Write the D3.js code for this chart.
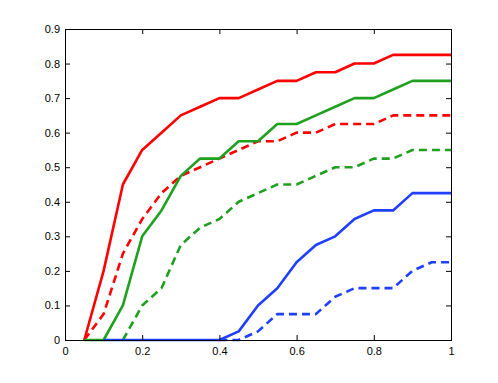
<!DOCTYPE html>
<html>
<head>
<meta charset="utf-8">
<script src="https://cdn.jsdelivr.net/npm/d3@7"></script>
<style>
  body { margin: 0; background: #fff; }
  svg { display: block; }
  .tick text { font-family: "Liberation Sans", Arial, sans-serif; font-size: 11px; fill: #000; }
</style>
</head>
<body>
<svg id="chart"></svg>
<script>
// x positions shared by every curve
var xs = [0.05, 0.1, 0.15, 0.2, 0.25, 0.3, 0.35, 0.4, 0.45, 0.5,
          0.55, 0.6, 0.65, 0.7, 0.75, 0.8, 0.85, 0.9, 0.95, 1];

// null = curve not drawn at that x
var redSolid   = [0, 0.2, 0.45, 0.55, 0.6, 0.65, 0.675, 0.7, 0.7, 0.725,
                  0.75, 0.75, 0.775, 0.775, 0.8, 0.8, 0.825, 0.825, 0.825, 0.825];
var redDashed  = [0, 0.075, 0.25, 0.35, 0.425, 0.475, 0.5, 0.525, 0.55, 0.575,
                  0.575, 0.6, 0.6, 0.625, 0.625, 0.625, 0.65, 0.65, 0.65, 0.65];
var greenSolid = [0, 0, 0.1, 0.3, 0.375, 0.475, 0.525, 0.525, 0.575, 0.575,
                  0.625, 0.625, 0.65, 0.675, 0.7, 0.7, 0.725, 0.75, 0.75, 0.75];
var greenDashed = [null, null, 0, 0.1, 0.15, 0.275, 0.325, 0.35, 0.4, 0.425,
                   0.45, 0.45, 0.475, 0.5, 0.5, 0.525, 0.525, 0.55, 0.55, 0.55];
var blueSolid  = [null, 0, 0, 0, 0, 0, 0, 0, 0.025, 0.1,
                  0.15, 0.225, 0.275, 0.3, 0.35, 0.375, 0.375, 0.425, 0.425, 0.425];
var blueDashed = [null, null, null, null, null, null, null, 0, 0, 0.025,
                  0.075, 0.075, 0.075, 0.125, 0.15, 0.15, 0.15, 0.2, 0.225, 0.225];

var xTicks = [0, 0.2, 0.4, 0.6, 0.8, 1];
var yTicks = [0, 0.1, 0.2, 0.3, 0.4, 0.5, 0.6, 0.7, 0.8, 0.9];

var series = [
  {values: redSolid,    color: "#ff0000", dash: null},
  {values: redDashed,   color: "#ff0000", dash: "8,5"},
  {values: greenSolid,  color: "#1fa01f", dash: null},
  {values: greenDashed, color: "#1fa01f", dash: "8,5"},
  {values: blueSolid,   color: "#2040ff", dash: null},
  {values: blueDashed,  color: "#2040ff", dash: "8,5"}
];

var width = 498, height = 383;
// plot box (window.top is reserved, so own names here)
var mLeft = 65, mRight = 451, mTop = 29, mBottom = 340;

var svg = d3.select("#chart")
  .attr("width", width)
  .attr("height", height);

var x = d3.scaleLinear().domain([0, 1]).range([mLeft, mRight]);
var y = d3.scaleLinear().domain([0, 0.9]).range([mBottom, mTop]);

var line = d3.line()
  .defined(d => d[1] !== null)
  .x(d => x(d[0]))
  .y(d => y(d[1]));

svg.append("g")
  .selectAll("path")
  .data(series)
  .join("path")
  .attr("fill", "none")
  .attr("stroke", d => d.color)
  .attr("stroke-width", 2.6)
  .attr("stroke-dasharray", d => d.dash)
  .attr("stroke-linejoin", "round")
  .attr("d", d => line(xs.map((v, i) => [v, d.values[i]])));

// axes - ticks pointing inward
var fmt = d => d === 0 || d === 1 ? String(d) : d3.format(".1f")(d);

svg.append("g")
  .attr("transform", `translate(0,${mBottom})`)
  .call(d3.axisBottom(x).tickValues(xTicks).tickFormat(fmt).tickSizeInner(-5).tickSizeOuter(0).tickPadding(7))
  .call(g => g.select(".domain").remove());

svg.append("g")
  .attr("transform", `translate(${mLeft},0)`)
  .call(d3.axisLeft(y).tickValues(yTicks).tickFormat(fmt).tickSizeInner(-5).tickSizeOuter(0).tickPadding(5))
  .call(g => g.select(".domain").remove());

svg.append("g")
  .attr("transform", `translate(0,${mTop})`)
  .call(d3.axisTop(x).tickValues(xTicks).tickFormat("").tickSizeInner(-5).tickSizeOuter(0))
  .call(g => g.select(".domain").remove());

svg.append("g")
  .attr("transform", `translate(${mRight},0)`)
  .call(d3.axisRight(y).tickValues(yTicks).tickFormat("").tickSizeInner(-5).tickSizeOuter(0))
  .call(g => g.select(".domain").remove());

svg.selectAll(".tick line").attr("stroke", "#000");

svg.append("rect")
  .attr("x", mLeft + 0.5)
  .attr("y", mTop + 0.5)
  .attr("width", mRight - mLeft)
  .attr("height", mBottom - mTop)
  .attr("fill", "none")
  .attr("stroke", "#000")
  .attr("stroke-width", 1);
</script>
</body>
</html>
